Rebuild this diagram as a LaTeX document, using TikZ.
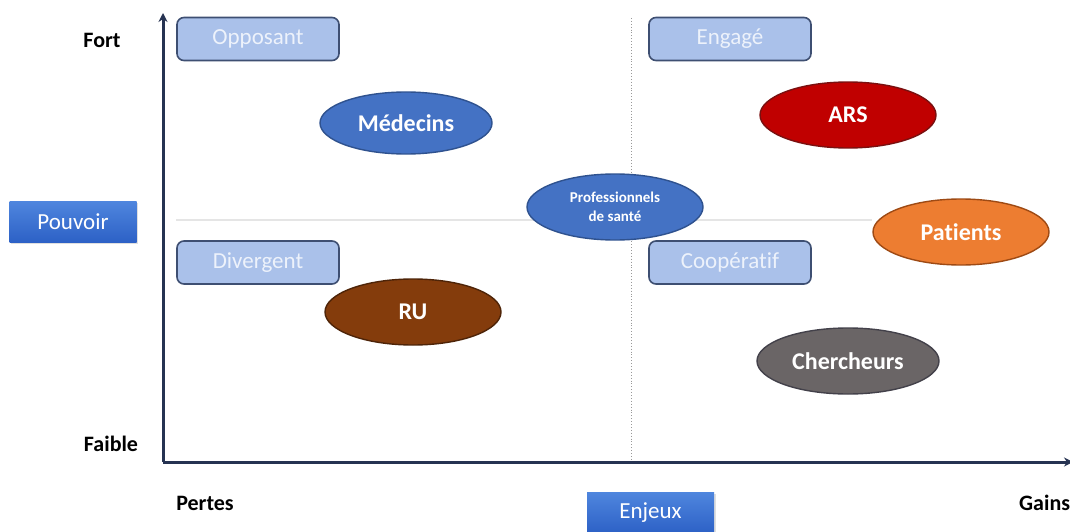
\documentclass[tikz,border=0pt]{standalone}
\usepackage{fontspec}
\setmainfont{Carlito}[Ligatures=NoCommon]
\usetikzlibrary{shapes.geometric,arrows.meta,shadows}
\definecolor{axiscol}{HTML}{263352}
\definecolor{quadfill}{HTML}{AAC1EA}
\definecolor{quaddraw}{HTML}{3E4F72}
\definecolor{quadtext}{HTML}{EDF2FB}
\definecolor{btop}{HTML}{4F86DE}
\definecolor{bbot}{HTML}{2D61C6}
\definecolor{ellblue}{HTML}{4472C4}
\definecolor{ellbluedk}{HTML}{2F528F}
\definecolor{ellred}{HTML}{C00000}
\definecolor{ellreddk}{HTML}{7A1010}
\definecolor{ellorange}{HTML}{ED7D31}
\definecolor{ellorangedk}{HTML}{9E4A14}
\definecolor{ellbrown}{HTML}{843C0C}
\definecolor{ellbrowndk}{HTML}{4E2408}
\definecolor{ellgray}{HTML}{6A6566}
\definecolor{ellgraydk}{HTML}{43414A}
\begin{document}
\begin{tikzpicture}[x=1pt,y=-1pt,
  axislabel/.style={font=\fontsize{22}{24}\selectfont\bfseries, text=black, inner sep=0pt},
  quadbox/.style={rectangle, rounded corners=7pt, fill=quadfill, draw=quaddraw, line width=1.6pt,
    minimum width=162pt, minimum height=43pt, inner sep=0pt, text=quadtext,
    font=\fontsize{23}{25}\selectfont},
  bluebox/.style={rectangle, top color=btop, bottom color=bbot, draw=none,
    minimum width=127pt, minimum height=41pt, inner sep=0pt, text=white,
    font=\fontsize{23}{25}\selectfont,
    drop shadow={opacity=0.25, shadow xshift=1.5pt, shadow yshift=-1.5pt}},
  actor/.style={ellipse, line width=1.4pt, minimum width=176pt, minimum height=66pt,
    inner sep=0pt, text=white, font=\fontsize{24}{26}\selectfont\bfseries},
  axisline/.style={draw=axiscol, line width=3pt},
]
\useasboundingbox (0,0) rectangle (1070,532);
\fill[white] (0,0) rectangle (1070,532);

% guide lines
\coordinate (hmidL) at (176,220);
\coordinate (hmidR) at (872,220);
\draw[draw=black!10, line width=1.4pt] (hmidL) -- (hmidR);
\coordinate (vmidT) at (631,18);
\coordinate (vmidB) at (631,460);
\draw[draw=black!40, dotted, line width=0.9pt] (vmidT) -- (vmidB);

% axes
\coordinate (O) at (163,462);
\coordinate (ytop) at (163,13);
\coordinate (xend) at (1073,462);
\draw[axisline, -{Stealth[length=9pt,width=9pt]}] (O) -- (ytop);
\draw[axisline, -{Stealth[length=9pt,width=9pt]}] (O) -- (xend);

% axis labels
\node[axislabel] (fort) at (102,40) {Fort};
\node[axislabel] (faible) at (111,444) {Faible};
\node[axislabel] (pertes) at (205,503) {Pertes};
\node[axislabel, anchor=west] (gains) at (1019,503) {Gains};
\node[bluebox] (pouvoir) at (73,221.5) {Pouvoir};
\node[bluebox] (enjeux) at (650.5,512.5) {Enjeux};

% quadrant boxes
\node[quadbox] (opposant) at (258,39) {Opposant};
\node[quadbox] (engage) at (730,39) {Engagé};
\node[quadbox] (divergent) at (258,262.5) {Divergent};
\node[quadbox] (cooperatif) at (730,262.5) {Coopératif};

% actors
\node[actor, fill=ellblue, draw=ellbluedk, minimum width=172pt, minimum height=62pt] (medecins) at (406,123) {Médecins};
\node[actor, fill=ellred, draw=ellreddk] (ars) at (848,115) {ARS};
\node[actor, fill=ellblue, draw=ellbluedk, font=\fontsize{15}{19}\selectfont\bfseries, align=center] (pros) at (615,207) {Professionnels\\de santé};
\node[actor, fill=ellorange, draw=ellorangedk] (patients) at (961,232) {Patients};
\node[actor, fill=ellbrown, draw=ellbrowndk] (ru) at (413,312) {RU};
\node[actor, fill=ellgray, draw=ellgraydk, minimum width=182pt] (chercheurs) at (848,361) {Chercheurs};
\end{tikzpicture}
\end{document}
